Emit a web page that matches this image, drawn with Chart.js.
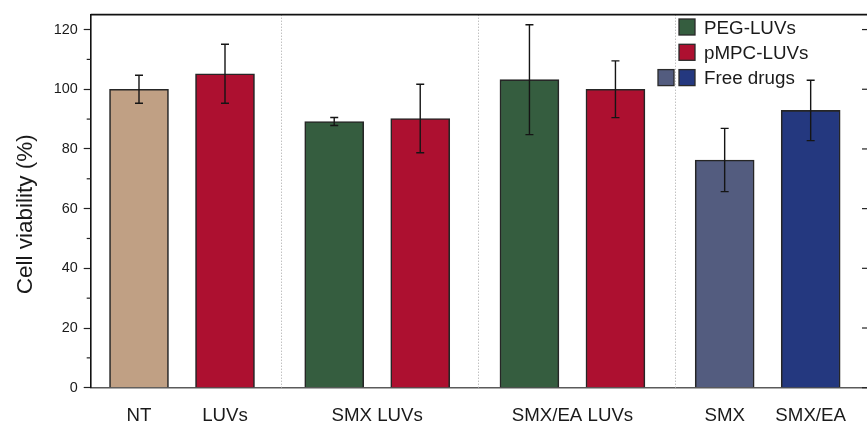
<!DOCTYPE html>
<html>
<head>
<meta charset="utf-8">
<script src="https://cdn.jsdelivr.net/npm/chart.js@4/dist/chart.umd.min.js"></script>
<style>
  html, body { margin: 0; padding: 0; background: #ffffff; }
  canvas { display: block; }
</style>
</head>
<body>
<canvas id="c" width="867" height="423"></canvas>
<script>
// Cell viability per treatment (mean and error, %)
const barNames   = ['NT', 'LUVs', 'SMX PEG-LUVs', 'SMX pMPC-LUVs', 'SMX/EA PEG-LUVs', 'SMX/EA pMPC-LUVs', 'SMX', 'SMX/EA'];
const viability  = [100, 105.2, 89.2, 90.2, 103.2, 100, 76.3, 92.9];
const errors     = [4.7, 9.9, 1.35, 11.5, 18.4, 9.5, 10.6, 10.1];
const barGroup   = [0, 0, 1, 1, 2, 2, 3, 3];

// Category labels under the axis and the bars each one sits under
const axisLabels = ['NT', 'LUVs', 'SMX LUVs', 'SMX/EA LUVs', 'SMX', 'SMX/EA'];
const labelBars  = [[0], [1], [2, 3], [4, 5], [6], [7]];

// Y axis tick values
const majorTicks = [0, 20, 40, 60, 80, 100, 120];
const minorTicks = [10, 30, 50, 70, 90, 110];

// Legend entries
const legendNames = ['PEG-LUVs', 'pMPC-LUVs', 'Free drugs'];

// Styles
const C_NT = '#c0a084', C_RED = '#ad1030', C_GREEN = '#355d3f', C_SLATE = '#535c7f', C_NAVY = '#24387f';
const barColors = [C_NT, C_RED, C_GREEN, C_RED, C_GREEN, C_RED, C_SLATE, C_NAVY];
const legendColors = [[C_GREEN], [C_RED], [C_SLATE, C_NAVY]];
const FONT = '"Liberation Sans", Arial, Helvetica, sans-serif';
const GROUP_GAP = 0.27;

const xPos = barNames.map((_, i) => i + GROUP_GAP * barGroup[i]);
const points = xPos.map((x, i) => ({ x: x, y: viability[i] }));

const decorations = {
  id: 'decorations',
  beforeDatasetsDraw(chart) {
    const { ctx, chartArea: a, scales: { x } } = chart;
    ctx.save();
    // dotted separators between groups
    ctx.strokeStyle = '#b4b4b4';
    ctx.lineWidth = 1;
    ctx.setLineDash([1.2, 1.8]);
    for (let i = 1; i < xPos.length; i++) {
      if (barGroup[i] !== barGroup[i - 1]) {
        const px = Math.round(x.getPixelForValue((xPos[i] + xPos[i - 1]) / 2 + 0.02 * barGroup[i])) + 0.5;
        ctx.beginPath();
        ctx.moveTo(px, a.top);
        ctx.lineTo(px, a.bottom);
        ctx.stroke();
      }
    }
    ctx.restore();
  },
  afterDatasetsDraw(chart) {
    const { ctx, chartArea: a, scales: { x, y } } = chart;
    const meta = chart.getDatasetMeta(0);
    ctx.save();
    // error bars
    ctx.strokeStyle = '#151515';
    ctx.lineWidth = 1.4;
    meta.data.forEach((el, i) => {
      const cx = el.x;
      const yt = y.getPixelForValue(viability[i] + errors[i]);
      const yb = y.getPixelForValue(viability[i] - errors[i]);
      ctx.beginPath();
      ctx.moveTo(cx, yt); ctx.lineTo(cx, yb);
      ctx.moveTo(cx - 4, yt); ctx.lineTo(cx + 4, yt);
      ctx.moveTo(cx - 4, yb); ctx.lineTo(cx + 4, yb);
      ctx.stroke();
    });

    // top frame line
    ctx.strokeStyle = '#111111';
    ctx.lineWidth = 1.6;
    ctx.beginPath();
    ctx.moveTo(a.left, a.top);
    ctx.lineTo(a.right, a.top);
    ctx.stroke();

    // minor ticks on the left axis
    ctx.lineWidth = 1.2;
    ctx.strokeStyle = '#222222';
    minorTicks.forEach(v => {
      const py = y.getPixelForValue(v);
      ctx.beginPath();
      ctx.moveTo(a.left - 4, py);
      ctx.lineTo(a.left, py);
      ctx.stroke();
    });
    // inward ticks on the right side
    majorTicks.forEach(v => {
      const py = y.getPixelForValue(v);
      ctx.beginPath();
      ctx.moveTo(a.right - 5, py);
      ctx.lineTo(a.right, py);
      ctx.stroke();
    });

    // category labels
    ctx.fillStyle = '#1a1a1a';
    ctx.font = '18.7px ' + FONT;
    ctx.textAlign = 'center';
    ctx.textBaseline = 'alphabetic';
    axisLabels.forEach((t, k) => {
      const xs = labelBars[k].map(i => meta.data[i].x);
      const cx = xs.reduce((s, v) => s + v, 0) / xs.length;
      ctx.fillText(t, cx, a.bottom + 33);
    });

    // y axis title
    ctx.save();
    ctx.translate(32.4, (a.top + a.bottom) / 2 + 13);
    ctx.rotate(-Math.PI / 2);
    ctx.font = '22.5px ' + FONT;
    ctx.fillStyle = '#1a1a1a';
    ctx.textAlign = 'center';
    ctx.fillText('Cell viability (%)', 0, 0);
    ctx.restore();

    // legend
    const sq = 16, rowH = 25.3;
    const sqX = 679, textX = 704, top0 = 19;
    ctx.font = '18.8px ' + FONT;
    ctx.textAlign = 'left';
    ctx.textBaseline = 'alphabetic';
    legendNames.forEach((name, r) => {
      const ty = top0 + r * rowH;
      const cols = legendColors[r];
      cols.forEach((col, j) => {
        const sx = sqX - (cols.length - 1 - j) * 21;
        ctx.fillStyle = col;
        ctx.fillRect(sx, ty, sq, sq);
        ctx.strokeStyle = '#2a2a2a';
        ctx.lineWidth = 1.3;
        ctx.strokeRect(sx, ty, sq, sq);
      });
      ctx.fillStyle = '#1a1a1a';
      ctx.fillText(name, textX, ty + 14.5);
    });
    ctx.restore();
  }
};

new Chart(document.getElementById('c'), {
  type: 'bar',
  data: {
    datasets: [{
      data: points,
      backgroundColor: barColors,
      borderColor: '#262626',
      borderWidth: 1.6,
      borderSkipped: 'bottom',
      barThickness: 59
    }]
  },
  options: {
    responsive: false,
    devicePixelRatio: 1,
    animation: false,
    layout: { padding: { top: 12.7, left: 0, right: 0, bottom: 0 } },
    plugins: { legend: { display: false }, tooltip: { enabled: false } },
    scales: {
      x: {
        type: 'linear',
        offset: false,
        min: -0.5616,
        max: 8.465,
        grid: { display: false, drawTicks: false },
        border: { display: true, color: '#5a5a5a', width: 1.6 },
        ticks: { display: false },
        afterFit(scale) { scale.height = 35.3; }
      },
      y: {
        min: 0,
        max: 125,
        afterBuildTicks(scale) {
          scale.ticks = majorTicks.map(v => ({ value: v }));
        },
        ticks: {
          color: '#1a1a1a',
          font: { family: FONT, size: 14.4 },
          padding: 6
        },
        grid: {
          drawOnChartArea: false,
          drawTicks: true,
          tickLength: 7,
          tickColor: '#222222',
          tickWidth: 1.2
        },
        border: { display: true, color: '#111111', width: 1.6 },
        afterFit(scale) { scale.width = 90.7; }
      }
    }
  },
  plugins: [decorations]
});
</script>
</body>
</html>
